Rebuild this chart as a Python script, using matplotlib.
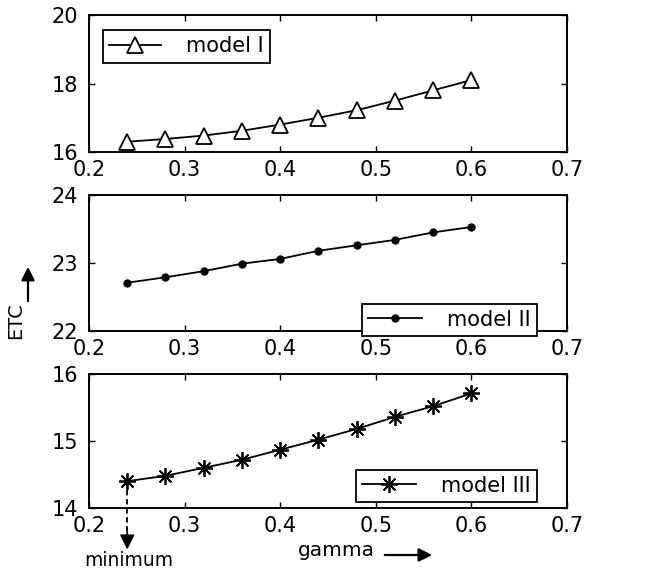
import numpy as np
import matplotlib
matplotlib.use("Agg")
import matplotlib.pyplot as plt
from matplotlib.patches import FancyArrowPatch

plt.rcParams['font.family'] = ['DejaVu Sans']
plt.rcParams['font.size'] = 15

# data
gamma = [0.24, 0.28, 0.32, 0.36, 0.40, 0.44, 0.48, 0.52, 0.56, 0.60]
etc_model1 = [16.30, 16.38, 16.48, 16.62, 16.80, 17.00, 17.22, 17.50, 17.80, 18.10]
etc_model2 = [22.71, 22.79, 22.88, 22.99, 23.06, 23.18, 23.26, 23.34, 23.45, 23.53]
etc_model3 = [14.40, 14.48, 14.60, 14.72, 14.87, 15.02, 15.18, 15.36, 15.52, 15.71]

xticks = [0.2, 0.3, 0.4, 0.5, 0.6, 0.7]
xticklabels = ["0.2", "0.3", "0.4", "0.5", "0.6", "0.7"]

W, H = 647, 572
fig = plt.figure(figsize=(W / 100, H / 100), dpi=100)


def make_ax(top, bottom):
    ax = fig.add_axes([89 / W, 1 - bottom / H, (567 - 89) / W, (bottom - top) / H])
    ax.set_xlim(0.2, 0.7)
    ax.set_xticks(xticks)
    ax.set_xticklabels(xticklabels)
    ax.tick_params(direction='in', top=True, right=True, length=4, width=1, labelsize=15)
    ax.tick_params(axis='y', pad=8)
    ax.tick_params(axis='x', pad=6)
    for s in ax.spines.values():
        s.set_linewidth(1.4)
    return ax


def add_legend(ax, loc, anchor, hl):
    leg = ax.legend(loc=loc, bbox_to_anchor=anchor, bbox_transform=fig.transFigure,
                    borderaxespad=0, fancybox=False, edgecolor='black', framealpha=1,
                    handlelength=hl, borderpad=0.3, handletextpad=1.2, fontsize=15)
    leg.get_frame().set_linewidth(1.3)
    return leg


# model I
ax1 = make_ax(15, 152)
ax1.plot(gamma, etc_model1, color='black', lw=1.3, marker='^', ms=12,
         mfc='white', mec='black', mew=1.3, label='model I')
ax1.set_ylim(16, 20)
ax1.set_yticks([16, 18, 20])
add_legend(ax1, 'upper left', (103 / W, 1 - 30 / H), 2.5)

# model II
ax2 = make_ax(195, 331)
ax2.plot(gamma, etc_model2, color='black', lw=1.3, marker='o', ms=5,
         mfc='black', mec='black', label='model II')
ax2.set_ylim(22, 24)
ax2.set_yticks([22, 23, 24])
add_legend(ax2, 'lower right', (537 / W, 1 - 336 / H), 2.6)

# model III
ax3 = make_ax(374, 508)
ax3.plot(gamma, etc_model3, color='black', lw=1.3, marker=(8, 2, 0), ms=12,
         mec='black', mew=1.3, label='model III')
ax3.set_ylim(14, 16)
ax3.set_yticks([14, 15, 16])
add_legend(ax3, 'lower right', (537 / W, 1 - 502 / H), 2.6)

# "minimum" marker: dashed drop line plus solid arrowhead
ax3.plot([gamma[0], gamma[0]], [etc_model3[0], 13.62], color='black', lw=1.3,
         linestyle=(0, (3, 2)), clip_on=False)
ax3.annotate('', xy=(gamma[0], 13.38), xytext=(gamma[0], 13.64),
             xycoords='data', textcoords='data', annotation_clip=False,
             arrowprops=dict(arrowstyle='-|>', color='black', lw=1.3,
                             mutation_scale=22, shrinkA=0, shrinkB=0))
fig.text(129 / W, 1 - 566 / H, 'minimum', ha='center', va='baseline', fontsize=13.5)

# axis labels with arrows
fig.text(336 / W, 1 - 550 / H, 'gamma', ha='center', va='center', fontsize=14.5)
fig.add_artist(FancyArrowPatch(
    (382 / W, 1 - 555 / H), (435 / W, 1 - 555 / H), transform=fig.transFigure,
    arrowstyle='-|>', mutation_scale=20, lw=1.6, color='black'))

fig.text(16 / W, 1 - 321 / H, 'ETC', rotation=90, ha='center', va='center', fontsize=14)
fig.add_artist(FancyArrowPatch(
    (28 / W, 1 - 304 / H), (28 / W, 1 - 264 / H), transform=fig.transFigure,
    arrowstyle='-|>', mutation_scale=20, lw=1.6, color='black'))

fig.savefig('out.png', dpi=100)
